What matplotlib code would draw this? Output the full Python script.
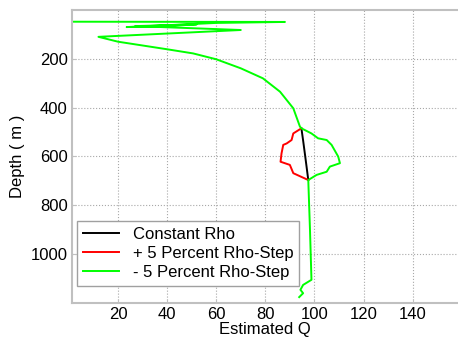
import numpy as np
import matplotlib
matplotlib.use("Agg")
import matplotlib.pyplot as plt

plt.rcParams["font.family"] = ["Liberation Sans", "DejaVu Sans"]

# shared shallow part of the Q profile (estimated Q, depth m)
top_q = [1.5, 88, 60, 23.5, 40, 52, 27, 70, 12, 20, 40, 50.6, 60, 70, 79, 86, 88.7,
         91.4, 94.1, 94.7]
top_depth = [48, 49, 53, 70, 66, 59, 66, 82, 110, 130, 161, 178, 202, 239, 280, 335, 369,
             403, 478, 485]

# rho-step zone, one track per model
const_q = [94.7, 95.4, 96.1, 96.8, 97.5]
const_depth = [485, 535, 588, 642, 697]
plus_q = [94.7, 91.4, 90.7, 88.7, 87.3, 86.6, 86.2, 90.0, 91.4, 97.5]
plus_depth = [485, 506, 533, 547, 553, 588, 622, 635, 669, 697]
minus_q = [94.7, 98.8, 101.5, 105.0, 107.0, 109.7, 110.4, 106.3, 105.0, 100.9, 97.5]
minus_depth = [485, 506, 526, 533, 553, 601, 628, 642, 663, 676, 697]

# shared deep part
deep_q = [97.5, 98.2, 98.8, 95.4, 94.3, 95.4, 93.8]
deep_depth = [697, 902, 1106, 1127, 1147, 1161, 1177]

labels = ["Constant Rho", "+ 5 Percent Rho-Step", "- 5 Percent Rho-Step"]
colors = ["black", "#ff0000", "#00ff00"]
mids = [(const_q, const_depth), (plus_q, plus_depth), (minus_q, minus_depth)]

fig = plt.figure(figsize=(4.58, 3.39), dpi=100)
ax = fig.add_axes([0.157, 0.107, 0.843, 0.8635])

# black and red only differ inside the step zone; the green run covers the rest
for (mq, md), c, lbl in zip(mids[:2], colors[:2], labels[:2]):
    ax.plot(mq, md, color=c, lw=1.4, label=lbl)
mq, md = mids[2]
q = np.concatenate([top_q, mq[1:], deep_q[1:]])
d = np.concatenate([top_depth, md[1:], deep_depth[1:]])
ax.plot(q, d, color=colors[2], lw=1.4, label=labels[2])

ax.set_xlim(1.2, 158.5)
ax.set_ylim(1200, 0)
ax.set_xticks(range(20, 141, 20))
ax.set_yticks(range(200, 1001, 200))
ax.grid(True, ls=":", color="#a8a8a8", lw=0.8)
for s in ax.spines.values():
    s.set_color("#c0c0c0")
    s.set_linewidth(1.5)
ax.spines["right"].set_visible(False)
ax.tick_params(direction="in", length=3, color="#c0c0c0", labelsize=12, pad=3)
ax.set_xlabel("Estimated Q", fontsize=12, labelpad=0)
ax.set_ylabel("Depth ( m )", fontsize=12, labelpad=4)

leg = ax.legend(loc="lower left", bbox_to_anchor=(0.013, 0.057), borderaxespad=0,
                fontsize=12, fancybox=False, framealpha=1, edgecolor="#a0a0a0",
                handlelength=2.2, labelspacing=0.25, borderpad=0.35)
leg.get_frame().set_linewidth(1.0)

fig.savefig("out.png", dpi=100)
